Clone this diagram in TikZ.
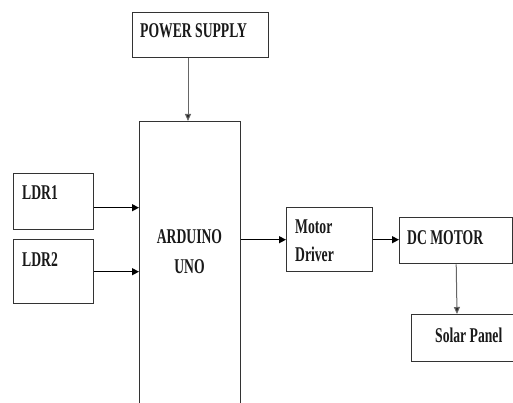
\documentclass[tikz,border=0pt]{standalone}
\usepackage{fontspec}
\newfontfamily\bfx[FakeStretch=0.65]{Liberation Serif}
\usetikzlibrary{arrows.meta,calc}
\begin{document}
\begin{tikzpicture}[x=1pt,y=-1pt,
  box/.style={draw=black!80,line width=1.4pt,inner sep=0pt,anchor=north west},
  txt/.style={inner sep=0pt,font=\bfx\bfseries\fontsize{21}{27}\selectfont,text=black!90},
  arr/.style={line width=1.3pt,-{Triangle[length=7pt,width=7pt]}},
  thinarr/.style={draw=black!60,line width=1pt,-{Triangle[length=7pt,width=6pt,fill=black!85]}}]
\useasboundingbox (0,0) rectangle (513,403);
\clip (0,0) rectangle (513,403);
% boxes
\node[box,minimum width=136pt,minimum height=45pt] (ps) at (132,12) {};
\node[box,minimum width=101pt,minimum height=300pt] (ard) at (139,121) {};
\node[box,minimum width=80pt,minimum height=56pt] (ldr1) at (13,173) {};
\node[box,minimum width=80pt,minimum height=64pt] (ldr2) at (13,239) {};
\node[box,minimum width=86pt,minimum height=64pt] (md) at (286,207) {};
\node[box,minimum width=113pt,minimum height=46pt] (dc) at (399,217) {};
\node[box,minimum width=110pt,minimum height=47pt] (sp) at (411,314) {};
% texts
\node[txt,anchor=west] (tps) at (140,31) {POWER SUPPLY};
\node[txt,anchor=west] (tl1) at (22,193) {LDR1};
\node[txt,anchor=west] (tl2) at (22,260) {LDR2};
\node[txt] (ta1) at (189.5,237) {ARDUINO};
\node[txt] (ta2) at (189.5,267) {UNO};
\node[txt,anchor=west] (tm1) at (295,227) {Motor};
\node[txt,anchor=west] (tm2) at (295,254) {Driver};
\node[txt,anchor=west] (tdc) at (407,238) {DC MOTOR};
\node[txt,anchor=west] (tsp) at (435,335) {Solar Panel};
% connectors
\coordinate (psout) at ($(ps.south west)+(56,0)$);
\draw[thinarr] (psout) -- (psout |- ard.north);
\coordinate (l1out) at ($(ldr1.east)+(0,6)$);
\draw[arr] (l1out) -- (l1out -| ard.west);
\coordinate (l2out) at ($(ldr2.east)+(0,0)$);
\draw[arr] (l2out) -- (l2out -| ard.west);
\draw[arr] (ard.east |- md.west) -- (md.west);
\draw[arr] (md.east) -- (md.east -| dc.west);
\coordinate (spin) at ($(sp.north west)+(46,0)$);
\draw[thinarr] (dc.south) -- (spin);
\end{tikzpicture}
\end{document}
